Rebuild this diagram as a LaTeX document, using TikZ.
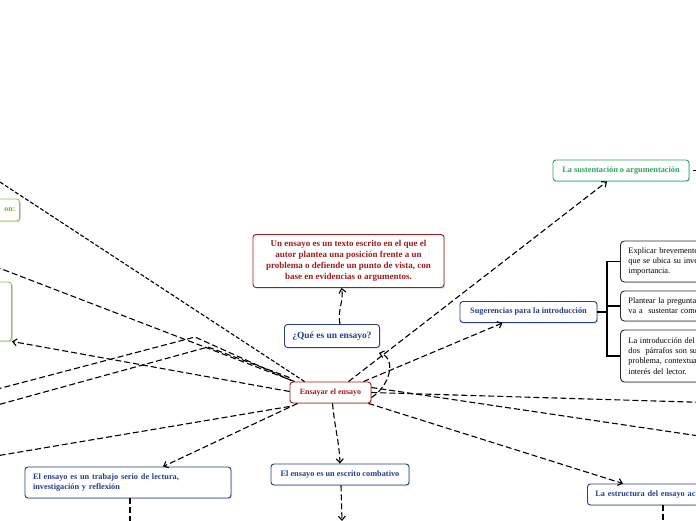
\documentclass[tikz,border=0pt]{standalone}
\usepackage{fontspec}
\setmainfont{Liberation Serif}
\usetikzlibrary{arrows.meta,shadows}
\definecolor{cred}{RGB}{160,28,28}
\definecolor{cblue}{RGB}{38,62,140}
\definecolor{cgreen}{RGB}{40,165,95}
\definecolor{clgreen}{RGB}{140,195,70}
\definecolor{clgtext}{RGB}{125,180,40}
\definecolor{cblack}{RGB}{45,45,45}
\begin{document}
\begin{tikzpicture}[x=1pt,y=-1pt,
  box/.style={draw, rounded corners=3pt, line width=0.9pt, fill=white, inner sep=0pt,
    drop shadow={shadow xshift=1.2pt,shadow yshift=-1.2pt,opacity=0.3}},
  redbox/.style={box, draw=cred, text=cred, font=\bfseries\fontsize{8}{11}\selectfont},
  bluebox/.style={box, draw=cblue, text=cblue, font=\bfseries\fontsize{8.3}{10.5}\selectfont},
  greenbox/.style={box, draw=cgreen, text=cgreen, font=\bfseries\fontsize{8.3}{10.5}\selectfont},
  lgreenbox/.style={box, draw=clgreen, text=clgtext, font=\bfseries\fontsize{8}{10}\selectfont},
  blackbox/.style={box, draw=cblack, text=black, rounded corners=4pt, font=\fontsize{8.3}{10.3}\selectfont,
    anchor=west, text width=130pt, inner xsep=8pt, align=left},
  conn/.style={draw=black, line width=1.1pt, dash pattern=on 6pt off 3pt},
  arr/.style={-{Straight Barb[length=4pt,width=7pt]}},
  brk/.style={draw=black, line width=1.6pt}
]
\useasboundingbox (0,0) rectangle (696,520);

% nodes
\node[redbox, minimum width=81pt, minimum height=21pt] (cen) at (330.5,392.5) {Ensayar el ensayo};
\node[redbox, font=\bfseries\fontsize{9}{11}\selectfont, minimum width=191pt, minimum height=53pt, align=center] (def) at (348.5,261)
  {Un ensayo es un texto escrito en el que el\\autor plantea una posición frente a un\\problema o defiende un punto de vista, con\\base en evidencias o argumentos.};
\node[bluebox, font=\bfseries\fontsize{9.5}{11}\selectfont, minimum width=95pt, minimum height=23pt] (que) at (332,336) {¿Qué es un ensayo?};
\node[greenbox, minimum width=136pt, minimum height=21pt] (sus) at (621,170.5) {La sustentación o argumentación};
\node[bluebox, minimum width=137pt, minimum height=21pt] (sug) at (528.5,312) {Sugerencias para la introducción};
\node[blackbox, minimum height=41pt] (exp) at (620,261.5) {Explicar brevemente\\que se ubica su inve\\importancia.};
\node[blackbox, minimum height=30pt] (pla) at (620,306) {Plantear la pregunta\\va a\ \ sustentar come};
\node[blackbox, minimum height=52pt] (intr) at (620,356) {La introducción del\\dos\ \ párrafos son su\\problema, contextua\\interés del lector.};
\node[bluebox, minimum height=31pt, text width=190pt, inner xsep=8pt, align=left] (tra) at (128,482.5)
  {El ensayo es un trabajo serio de lectura,\\investigación y reflexión};
\node[bluebox, minimum width=138pt, minimum height=21pt] (com) at (340,474.5) {El ensayo es un escrito combativo};
\node[bluebox, anchor=west, minimum height=21pt, text width=134pt, inner xsep=8pt, align=left] (est) at (587,494.5) {La estructura del ensayo aca};
\node[lgreenbox, anchor=east, minimum height=22pt, text width=72pt, inner xsep=4pt, align=right] (onb) at (20,210) {on:};
\node[lgreenbox, anchor=east, minimum width=60pt, minimum height=59pt] (g2) at (12,311.5) {};

% free ends
\coordinate (e1) at (-10,175.5);
\coordinate (e2) at (-10,264.5);
\coordinate (k1) at (195,337);
\coordinate (f1) at (-10,391);
\coordinate (k2) at (208,347);
\coordinate (f2) at (-10,407);
\coordinate (f5) at (-10,457);
\coordinate (cb) at (342,521);
\coordinate (tb) at (130,525);
\coordinate (sb) at (663,525);
\coordinate (r1) at (706,402.5);
\coordinate (r2) at (706,437);
\coordinate (st) at (706,170.5);
\coordinate (bx) at (607,0);

% connectors
\draw[conn, dash pattern=on 4pt off 2pt] ([xshift=15pt]cen.north west) -- (e1);
\draw[conn] ([xshift=5pt]cen.north west) -- (e2);
\draw[conn,arr] ([yshift=1pt]cen.west) -- (g2.south east);
\draw[conn] ([xshift=2pt,yshift=1pt]cen.north west) -- (k1) -- (f1);
\draw[conn] ([yshift=4pt]cen.north west) -- (k2) -- (f2);
\draw[conn] ([yshift=-3pt]cen.south west) -- (f5);
\draw[conn,arr] ([xshift=8pt]cen.south west) -- ([xshift=35pt]tra.north);
\draw[conn,arr] ([xshift=2pt]cen.south) .. controls (335,430) and (339,440) .. (com.north);
\draw[conn,arr] ([xshift=1pt]com.south) -- (cb);
\draw[conn] ([xshift=2pt]tra.south) -- (tb);
\draw[conn] ([xshift=76pt]est.south west) -- (sb);
\draw[conn,arr] ([xshift=-3pt]cen.south east) -- ([xshift=36pt]est.north west);
\draw[conn] (cen.east) -- (r1);
\draw[conn] ([yshift=5pt]cen.east) -- (r2);
\draw[conn,arr] ([xshift=-8pt]cen.north east) -- ([xshift=-26pt]sug.south);
\draw[conn,arr] ([xshift=18pt]cen.north) -- ([xshift=-14pt]sus.south);
\draw[conn,arr] ([yshift=-5pt]cen.east) .. controls (390,386) and (397,358) .. ([xshift=-1pt,yshift=-5pt]que.south east);
\draw[conn,arr] ([xshift=8pt]que.north) .. controls (337,312) and (344,300) .. ([xshift=-7pt]def.south);
\draw[conn] ([xshift=4pt]sus.east) -- (st);

% bracket
\draw[brk] (sug.east) -- (sug.east -| bx);
\draw[brk] (exp.west) -| (bx |- intr.west) -- (intr.west);
\draw[brk] (pla.west) -- (pla.west -| bx);
\end{tikzpicture}
\end{document}
